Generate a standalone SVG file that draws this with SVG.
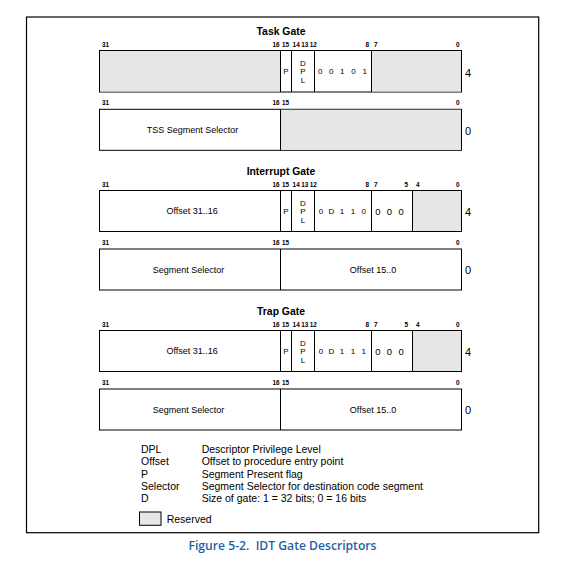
<svg xmlns="http://www.w3.org/2000/svg" width="572" height="562" viewBox="0 0 572 562">
<style>
text{font-family:"Liberation Sans",Arial,sans-serif;fill:#000}
.t{font-size:10.4px;font-weight:bold;text-anchor:middle}
.b{font-size:6.4px;font-weight:bold}
.e{text-anchor:end}
.c{font-size:8px;text-anchor:middle}
.c9{font-size:9.5px;text-anchor:middle}
.f{font-size:9px;text-anchor:middle}
.r{font-size:11px}
.lg{font-size:10.5px}
.box{fill:#fff;stroke:#000;stroke-width:1}
.res{fill:#e6e6e6}
.ln{stroke:#000;stroke-width:1}
.cap{font-family:"Open Sans","Noto Sans",sans-serif;font-size:13px;font-weight:600;fill:#1f5fa8;text-anchor:middle}
</style>
<rect x="0" y="0" width="572" height="562" fill="#fff"/>
<rect id="frame" x="26.5" y="17" width="512.2" height="515.7" fill="none" stroke="#000" stroke-width="1.2"/>

<!-- Task Gate -->
<g id="task-gate">
<text class="t" x="281" y="35">Task Gate</text>
<g id="task-word4">
<text class="b" x="102" y="46.5">31</text>
<text class="b e" x="279.5" y="46.5">16</text>
<text class="b" x="282" y="46.5">15</text>
<text class="b" x="292.6" y="46.5">14</text>
<text class="b" x="301.2" y="46.5">13</text>
<text class="b" x="309.8" y="46.5">12</text>
<text class="b e" x="369" y="46.5">8</text>
<text class="b" x="374" y="46.5">7</text>
<text class="b e" x="459.5" y="46.5">0</text>
<rect class="box" x="99.5" y="50.5" width="362" height="41.5"/>
<rect class="res" x="100" y="51" width="180.5" height="40.5"/>
<rect class="res" x="371.5" y="51" width="89.5" height="40.5"/>
<line class="ln" x1="280.5" y1="50.5" x2="280.5" y2="92"/>
<line class="ln" x1="291.5" y1="50.5" x2="291.5" y2="92"/>
<line class="ln" x1="314.5" y1="50.5" x2="314.5" y2="92"/>
<line class="ln" x1="371.5" y1="50.5" x2="371.5" y2="92"/>
<text class="c" x="286" y="74.3">P</text>
<text class="c" x="302.9" y="65.7">D</text>
<text class="c" x="302.9" y="74.3">P</text>
<text class="c" x="302.9" y="83">L</text>
<text class="c" x="320.3" y="74.3">0</text>
<text class="c" x="331.3" y="74.3">0</text>
<text class="c" x="342.3" y="74.3">1</text>
<text class="c" x="353.5" y="74.3">0</text>
<text class="c" x="364.8" y="74.3">1</text>
<text class="r" x="465" y="76.5">4</text>
</g>
<g id="task-word0">
<text class="b" x="102" y="105.3">31</text>
<text class="b e" x="279.5" y="105.3">16</text>
<text class="b" x="282" y="105.3">15</text>
<text class="b e" x="459.5" y="105.3">0</text>
<rect class="box" x="99.5" y="109.3" width="362" height="41"/>
<rect class="res" x="280.5" y="109.8" width="180.5" height="40"/>
<line class="ln" x1="280.5" y1="109.3" x2="280.5" y2="150.3"/>
<text class="f" x="192.5" y="133.3">TSS Segment Selector</text>
<text class="r" x="465" y="135">0</text>
</g>
</g>

<!-- Interrupt Gate -->
<g id="interrupt-gate">
<text class="t" x="281" y="175">Interrupt Gate</text>
<g id="interrupt-word4">
<text class="b" x="102" y="186.5">31</text>
<text class="b e" x="279.5" y="186.5">16</text>
<text class="b" x="282" y="186.5">15</text>
<text class="b" x="292.6" y="186.5">14</text>
<text class="b" x="301.2" y="186.5">13</text>
<text class="b" x="309.8" y="186.5">12</text>
<text class="b e" x="369" y="186.5">8</text>
<text class="b" x="374" y="186.5">7</text>
<text class="b e" x="408" y="186.5">5</text>
<text class="b" x="416" y="186.5">4</text>
<text class="b e" x="459.5" y="186.5">0</text>
<rect class="box" x="99.5" y="190.5" width="362" height="41"/>
<rect class="res" x="412.5" y="191" width="48.5" height="40"/>
<line class="ln" x1="280.5" y1="190.5" x2="280.5" y2="231.5"/>
<line class="ln" x1="291.5" y1="190.5" x2="291.5" y2="231.5"/>
<line class="ln" x1="314.5" y1="190.5" x2="314.5" y2="231.5"/>
<line class="ln" x1="371.5" y1="190.5" x2="371.5" y2="231.5"/>
<line class="ln" x1="412.5" y1="190.5" x2="412.5" y2="231.5"/>
<text class="f" x="192.2" y="214.3">Offset 31..16</text>
<text class="c" x="286" y="214.3">P</text>
<text class="c" x="302.9" y="205.7">D</text>
<text class="c" x="302.9" y="214.3">P</text>
<text class="c" x="302.9" y="223">L</text>
<text class="c" x="321" y="214.3">0</text>
<text class="c" x="331.5" y="214.3">D</text>
<text class="c" x="342" y="214.3">1</text>
<text class="c" x="353" y="214.3">1</text>
<text class="c" x="363.7" y="214.3">0</text>
<text class="c9" x="378" y="214.5">0</text>
<text class="c9" x="389.5" y="214.5">0</text>
<text class="c9" x="401.2" y="214.5">0</text>
<text class="r" x="465" y="216">4</text>
</g>
<g id="interrupt-word0">
<text class="b" x="102" y="245">31</text>
<text class="b e" x="279.5" y="245">16</text>
<text class="b" x="282" y="245">15</text>
<text class="b e" x="459.5" y="245">0</text>
<rect class="box" x="99.5" y="249" width="362" height="41"/>
<line class="ln" x1="280.5" y1="249" x2="280.5" y2="290"/>
<text class="f" x="188.5" y="273">Segment Selector</text>
<text class="f" x="373" y="273">Offset 15..0</text>
<text class="r" x="465" y="274">0</text>
</g>
</g>

<!-- Trap Gate -->
<g id="trap-gate">
<text class="t" x="281" y="315">Trap Gate</text>
<g id="trap-word4">
<text class="b" x="102" y="326.5">31</text>
<text class="b e" x="279.5" y="326.5">16</text>
<text class="b" x="282" y="326.5">15</text>
<text class="b" x="292.6" y="326.5">14</text>
<text class="b" x="301.2" y="326.5">13</text>
<text class="b" x="309.8" y="326.5">12</text>
<text class="b e" x="369" y="326.5">8</text>
<text class="b" x="374" y="326.5">7</text>
<text class="b e" x="408" y="326.5">5</text>
<text class="b" x="416" y="326.5">4</text>
<text class="b e" x="459.5" y="326.5">0</text>
<rect class="box" x="99.5" y="330.5" width="362" height="41"/>
<rect class="res" x="412.5" y="331" width="48.5" height="40"/>
<line class="ln" x1="280.5" y1="330.5" x2="280.5" y2="371.5"/>
<line class="ln" x1="291.5" y1="330.5" x2="291.5" y2="371.5"/>
<line class="ln" x1="314.5" y1="330.5" x2="314.5" y2="371.5"/>
<line class="ln" x1="371.5" y1="330.5" x2="371.5" y2="371.5"/>
<line class="ln" x1="412.5" y1="330.5" x2="412.5" y2="371.5"/>
<text class="f" x="192.2" y="354.3">Offset 31..16</text>
<text class="c" x="286" y="354.3">P</text>
<text class="c" x="302.9" y="345.7">D</text>
<text class="c" x="302.9" y="354.3">P</text>
<text class="c" x="302.9" y="363">L</text>
<text class="c" x="321" y="354.3">0</text>
<text class="c" x="331.5" y="354.3">D</text>
<text class="c" x="342" y="354.3">1</text>
<text class="c" x="353" y="354.3">1</text>
<text class="c" x="363.7" y="354.3">1</text>
<text class="c9" x="378" y="354.5">0</text>
<text class="c9" x="389.5" y="354.5">0</text>
<text class="c9" x="401.2" y="354.5">0</text>
<text class="r" x="465" y="356">4</text>
</g>
<g id="trap-word0">
<text class="b" x="102" y="385">31</text>
<text class="b e" x="279.5" y="385">16</text>
<text class="b" x="282" y="385">15</text>
<text class="b e" x="459.5" y="385">0</text>
<rect class="box" x="99.5" y="389" width="362" height="41"/>
<line class="ln" x1="280.5" y1="389" x2="280.5" y2="430"/>
<text class="f" x="188.5" y="413">Segment Selector</text>
<text class="f" x="373" y="413">Offset 15..0</text>
<text class="r" x="465" y="414">0</text>
</g>
</g>

<!-- Legend -->
<g id="legend">
<text class="lg" x="141" y="453">DPL</text>
<text class="lg" x="201.7" y="453">Descriptor Privilege Level</text>
<text class="lg" x="141" y="465.3">Offset</text>
<text class="lg" x="201.7" y="465.3">Offset to procedure entry point</text>
<text class="lg" x="141" y="477.6">P</text>
<text class="lg" x="201.7" y="477.6">Segment Present flag</text>
<text class="lg" x="141" y="489.9">Selector</text>
<text class="lg" x="201.7" y="489.9">Segment Selector for destination code segment</text>
<text class="lg" x="141" y="502.2">D</text>
<text class="lg" x="201.7" y="502.2">Size of gate: 1 = 32 bits; 0 = 16 bits</text>
<rect x="139.5" y="512" width="21.5" height="13.3" fill="#e6e6e6" stroke="#000" stroke-width="1"/>
<text class="lg" x="166.7" y="522.5">Reserved</text>
</g>

<text id="caption" class="cap" x="282.5" y="549.5" xml:space="preserve" textLength="188" lengthAdjust="spacingAndGlyphs">Figure 5-2.  IDT Gate Descriptors</text>
</svg>
